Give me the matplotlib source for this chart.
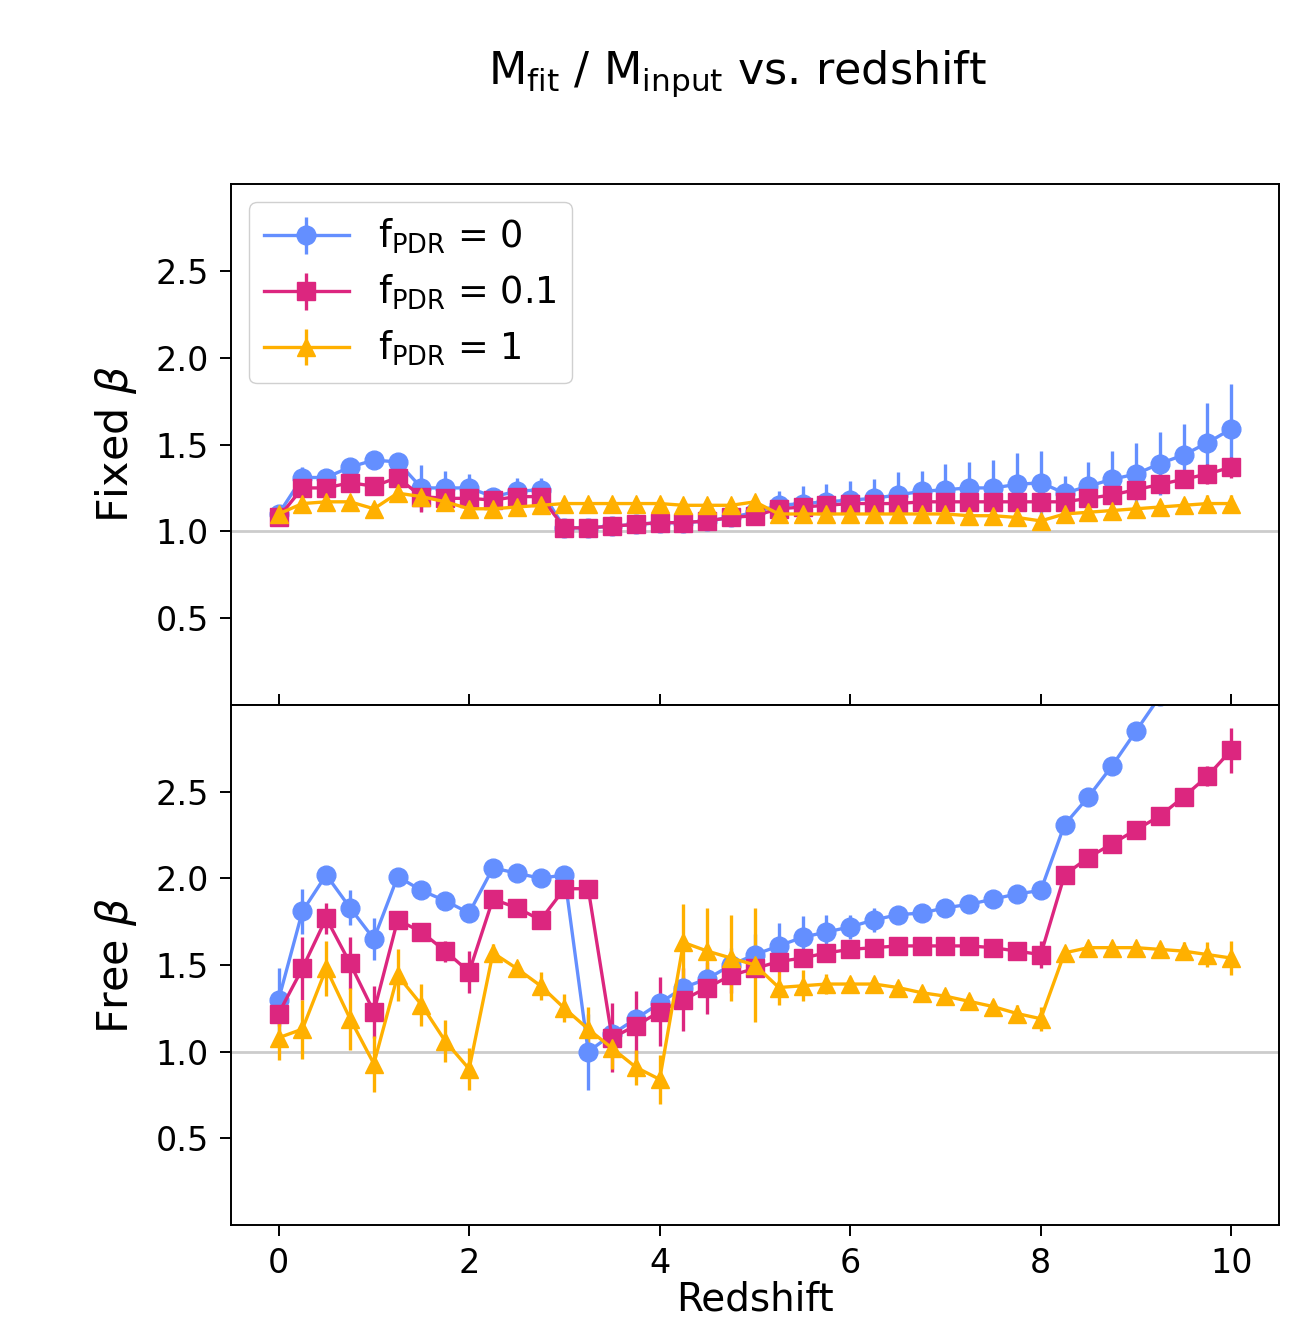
import numpy as np
import matplotlib
matplotlib.use("Agg")
import matplotlib.pyplot as plt

# redshift grid
redshift = [0.0, 0.25, 0.5, 0.75, 1.0, 1.25, 1.5, 1.75, 2.0, 2.25, 2.5, 2.75,
            3.0, 3.25, 3.5, 3.75, 4.0, 4.25, 4.5, 4.75, 5.0, 5.25, 5.5, 5.75,
            6.0, 6.25, 6.5, 6.75, 7.0, 7.25, 7.5, 7.75, 8.0, 8.25, 8.5, 8.75,
            9.0, 9.25, 9.5, 9.75, 10.0]

labels = [r"$\mathregular{f_{PDR}}$ = 0", r"$\mathregular{f_{PDR}}$ = 0.1",
          r"$\mathregular{f_{PDR}}$ = 1"]

# fixed beta
fix_0 = [1.10, 1.31, 1.31, 1.37, 1.41, 1.40, 1.25, 1.25, 1.25, 1.20, 1.23, 1.24,
         1.02, 1.02, 1.03, 1.04, 1.05, 1.05, 1.06, 1.08, 1.11, 1.15, 1.16, 1.17,
         1.18, 1.19, 1.21, 1.23, 1.24, 1.25, 1.25, 1.27, 1.28, 1.22, 1.26, 1.30,
         1.33, 1.39, 1.44, 1.51, 1.59]
fix_0_err = [0.03, 0.06, 0.04, 0.04, 0.03, 0.05, 0.13, 0.10, 0.08, 0.04, 0.08, 0.07,
             0.02, 0.02, 0.02, 0.02, 0.02, 0.02, 0.03, 0.03, 0.04, 0.08, 0.10, 0.10,
             0.11, 0.11, 0.13, 0.12, 0.15, 0.15, 0.16, 0.18, 0.18, 0.10, 0.14, 0.16,
             0.18, 0.18, 0.18, 0.23, 0.26]
fix_01 = [1.08, 1.25, 1.25, 1.28, 1.26, 1.31, 1.20, 1.19, 1.19, 1.18, 1.20, 1.20,
          1.02, 1.02, 1.03, 1.04, 1.05, 1.05, 1.06, 1.08, 1.09, 1.13, 1.14, 1.15,
          1.16, 1.16, 1.16, 1.17, 1.17, 1.17, 1.17, 1.17, 1.17, 1.17, 1.19, 1.21,
          1.24, 1.27, 1.30, 1.33, 1.37]
fix_01_err = [0.03, 0.04, 0.04, 0.04, 0.03, 0.04, 0.09, 0.07, 0.04, 0.05, 0.04, 0.04,
              0.02, 0.02, 0.02, 0.02, 0.02, 0.02, 0.03, 0.03, 0.04, 0.04, 0.04, 0.04,
              0.04, 0.04, 0.04, 0.04, 0.04, 0.04, 0.04, 0.04, 0.04, 0.04, 0.04, 0.05,
              0.05, 0.05, 0.05, 0.06, 0.06]
fix_1 = [1.10, 1.16, 1.17, 1.17, 1.13, 1.22, 1.20, 1.17, 1.13, 1.13, 1.14, 1.15,
         1.16, 1.16, 1.16, 1.16, 1.16, 1.15, 1.15, 1.15, 1.17, 1.10, 1.10, 1.10,
         1.10, 1.10, 1.10, 1.10, 1.10, 1.09, 1.09, 1.08, 1.06, 1.10, 1.11, 1.12,
         1.13, 1.14, 1.15, 1.16, 1.16]
fix_1_err = [0.03, 0.03, 0.03, 0.03, 0.03, 0.03, 0.03, 0.03, 0.03, 0.03, 0.03, 0.03,
             0.02, 0.02, 0.02, 0.02, 0.02, 0.02, 0.02, 0.02, 0.03, 0.03, 0.03, 0.03,
             0.03, 0.03, 0.03, 0.03, 0.03, 0.03, 0.03, 0.03, 0.03, 0.04, 0.04, 0.04,
             0.04, 0.04, 0.04, 0.05, 0.05]

# free beta
free_0 = [1.30, 1.81, 2.02, 1.83, 1.65, 2.01, 1.93, 1.87, 1.80, 2.06, 2.03, 2.00,
          2.02, 1.00, 1.10, 1.19, 1.28, 1.37, 1.42, 1.50, 1.56, 1.61, 1.66, 1.69,
          1.72, 1.76, 1.79, 1.80, 1.83, 1.85, 1.88, 1.91, 1.93, 2.31, 2.47, 2.65,
          2.85, 3.05, 3.25, 3.45, 3.65]
free_0_err = [0.18, 0.13, 0.03, 0.10, 0.12, 0.03, 0.03, 0.03, 0.05, 0.03, 0.03, 0.03,
              0.03, 0.22, 0.05, 0.05, 0.05, 0.06, 0.06, 0.10, 0.12, 0.13, 0.12, 0.10,
              0.07, 0.07, 0.04, 0.03, 0.03, 0.03, 0.03, 0.03, 0.03, 0.04, 0.05, 0.05,
              0.05, 0.05, 0.05, 0.05, 0.05]
free_01 = [1.22, 1.48, 1.77, 1.51, 1.23, 1.76, 1.69, 1.58, 1.46, 1.88, 1.83, 1.76,
           1.94, 1.94, 1.08, 1.15, 1.23, 1.30, 1.37, 1.44, 1.48, 1.52, 1.54, 1.57,
           1.59, 1.60, 1.61, 1.61, 1.61, 1.61, 1.60, 1.58, 1.56, 2.02, 2.12, 2.20,
           2.28, 2.36, 2.47, 2.59, 2.74]
free_01_err = [0.07, 0.18, 0.09, 0.15, 0.15, 0.03, 0.04, 0.06, 0.12, 0.03, 0.03, 0.05,
               0.03, 0.03, 0.20, 0.20, 0.20, 0.18, 0.15, 0.10, 0.05, 0.04, 0.04, 0.04,
               0.03, 0.03, 0.03, 0.03, 0.03, 0.03, 0.03, 0.04, 0.08, 0.03, 0.03, 0.03,
               0.03, 0.04, 0.04, 0.06, 0.13]
free_1 = [1.08, 1.13, 1.48, 1.19, 0.93, 1.44, 1.27, 1.06, 0.90, 1.57, 1.48, 1.38,
          1.25, 1.13, 1.02, 0.91, 0.84, 1.63, 1.58, 1.54, 1.50, 1.37, 1.38, 1.39,
          1.39, 1.39, 1.37, 1.34, 1.32, 1.29, 1.26, 1.22, 1.19, 1.57, 1.60, 1.60,
          1.60, 1.59, 1.58, 1.56, 1.54]
free_1_err = [0.13, 0.17, 0.16, 0.18, 0.16, 0.15, 0.12, 0.12, 0.12, 0.05, 0.04, 0.08,
              0.08, 0.13, 0.12, 0.10, 0.14, 0.22, 0.25, 0.25, 0.33, 0.10, 0.09, 0.06,
              0.04, 0.04, 0.04, 0.04, 0.04, 0.04, 0.04, 0.05, 0.07, 0.03, 0.03, 0.03,
              0.03, 0.04, 0.05, 0.07, 0.10]

colors = ["#648FFF", "#DC267F", "#FFB000"]
markers = ["o", "s", "^"]

fig = plt.figure(figsize=(13.1, 13.2), dpi=100)
ax1 = fig.add_axes([0.1763, 0.4659, 0.8, 0.3947])
ax2 = fig.add_axes([0.1763, 0.0720, 0.8, 0.3939], sharex=ax1)

panels = [
    (ax1, [fix_0, fix_01, fix_1], [fix_0_err, fix_01_err, fix_1_err], r"Fixed $\beta$"),
    (ax2, [free_0, free_01, free_1], [free_0_err, free_01_err, free_1_err], r"Free $\beta$"),
]

for ax, ys, errs, ylab in panels:
    ax.axhline(1.0, color="#cccccc", lw=2, zorder=0)
    for y, e, c, m, lab in zip(ys, errs, colors, markers, labels):
        ax.errorbar(redshift, y, yerr=e, color=c, marker=m, ms=13.5, lw=2.4,
                    elinewidth=2.4, capsize=0, label=lab)
    ax.set_ylim(0, 3)
    ax.set_yticks([0.5, 1.0, 1.5, 2.0, 2.5])
    ax.set_ylabel(ylab, fontsize=31, labelpad=12)
    ax.tick_params(axis="both", labelsize=24, length=8, width=1.4, pad=8)
    for s in ax.spines.values():
        s.set_linewidth(1.4)

ax1.set_xlim(-0.5, 10.5)
ax1.set_xticks([0, 2, 4, 6, 8, 10])
ax1.tick_params(axis="x", direction="in", labelbottom=False)
ax2.set_xlabel("Redshift", fontsize=28, labelpad=0)

leg = ax1.legend(loc="upper left", fontsize=26.5, handlelength=2.3,
                 labelspacing=0.45, framealpha=1, edgecolor="#d0d0d0")

fig.text(0.563, 0.944, r"M$_{\rm fit}$ / M$_{\rm input}$ vs. redshift",
         ha="center", va="center", fontsize=32)

fig.savefig("out.png", dpi=100)
